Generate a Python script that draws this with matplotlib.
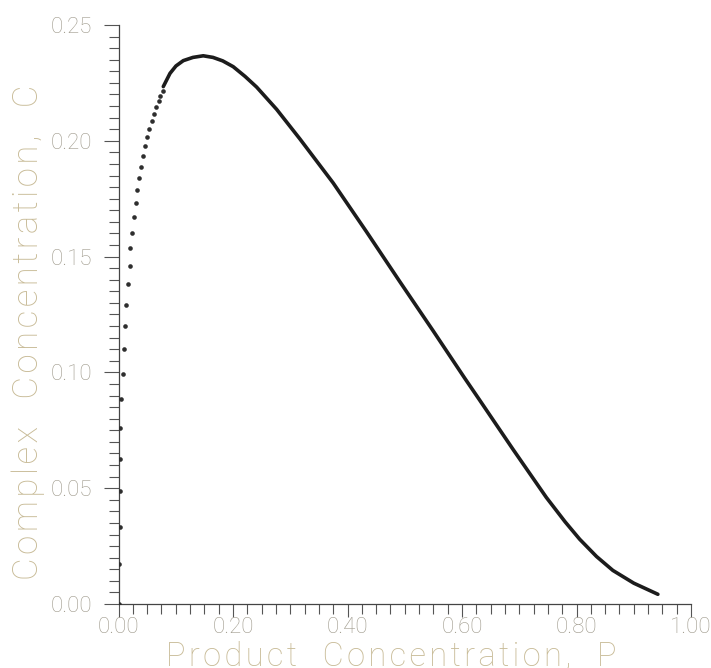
import matplotlib
matplotlib.use("Agg")
import matplotlib.pyplot as plt
from matplotlib.ticker import MultipleLocator, FormatStrFormatter

# Sparse early-time points (product P, complex C)
p_sparse = [0.000, 0.001, 0.002, 0.002, 0.003, 0.003, 0.005, 0.007, 0.0096, 0.0113,
            0.0136, 0.0161, 0.0192, 0.0209, 0.0241, 0.0265, 0.0300, 0.0328, 0.0358,
            0.0393, 0.0433, 0.0468, 0.0503, 0.0538, 0.0579, 0.0620, 0.0654, 0.0702,
            0.0729, 0.0771]
c_sparse = [0.0000, 0.0171, 0.0334, 0.0487, 0.0626, 0.0759, 0.0884, 0.0994, 0.1102, 0.1199,
            0.1291, 0.1380, 0.1459, 0.1535, 0.1603, 0.1670, 0.1730, 0.1788, 0.1839,
            0.1887, 0.1934, 0.1976, 0.2015, 0.2051, 0.2085, 0.2116, 0.2145, 0.2172,
            0.2195, 0.2216]

# Dense later-time points (dots merge into a line)
p_dense = [0.0782, 0.0899, 0.1003, 0.1131, 0.130, 0.148, 0.165, 0.182, 0.2003, 0.221,
           0.2412, 0.2761, 0.3168, 0.3749, 0.4332, 0.4913, 0.5494, 0.6047, 0.6309,
           0.6890, 0.7473, 0.7800, 0.8054, 0.8350, 0.8635, 0.9000, 0.9421]
c_dense = [0.2234, 0.2291, 0.2323, 0.2346, 0.2360, 0.2367, 0.2360, 0.2345, 0.2320, 0.2278,
           0.2232, 0.2136, 0.2008, 0.1818, 0.1607, 0.1392, 0.1180, 0.0975, 0.0880,
           0.0668, 0.0460, 0.0355, 0.0280, 0.0205, 0.0145, 0.0090, 0.0042]

x_label = "Product  Concentration,  P"
y_label = "Complex  Concentration,  C"

def spaced(s):
    return "\u200a".join(s)

tick_color = "#9e998b"
label_color = "#c8bb97"
font = ["Roboto", "DejaVu Sans"]

fig = plt.figure(figsize=(7.11, 6.68), dpi=100)
ax = fig.add_axes([0.1667, 0.0958, 0.8052, 0.8668])

ax.plot(p_dense, c_dense, color="#1c1c1c", lw=2.6, solid_capstyle="round")
ax.scatter(p_sparse, c_sparse, s=11, color="#2e2e2e", zorder=3, linewidths=0)

ax.set_xlim(0, 1.0)
ax.set_ylim(0, 0.25)
ax.spines["top"].set_visible(False)
ax.spines["right"].set_visible(False)
for s in ("left", "bottom"):
    ax.spines[s].set_linewidth(0.9)
    ax.spines[s].set_color("#444444")

ax.xaxis.set_major_locator(MultipleLocator(0.2))
ax.xaxis.set_minor_locator(MultipleLocator(0.025))
ax.yaxis.set_major_locator(MultipleLocator(0.05))
ax.yaxis.set_minor_locator(MultipleLocator(0.005))
ax.xaxis.set_major_formatter(FormatStrFormatter("%.2f"))
ax.yaxis.set_major_formatter(FormatStrFormatter("%.2f"))

ax.tick_params(axis="x", which="major", direction="out", length=9, width=0.8,
               color="#555555", labelsize=16, labelcolor=tick_color, pad=0)
ax.tick_params(axis="x", which="minor", direction="out", length=7, width=0.8, color="#555555")
ax.tick_params(axis="y", which="major", direction="out", length=11, width=0.8,
               color="#555555", labelsize=16, labelcolor=tick_color, pad=8)
ax.tick_params(axis="y", which="minor", direction="out", length=7, width=0.8, color="#555555")
for lab in ax.get_xticklabels() + ax.get_yticklabels():
    lab.set_fontweight("light")
    lab.set_family(font)

fig.text(0.550, -0.007, spaced(x_label), ha="center", va="bottom", fontsize=23.5,
         color=label_color, fontweight="light", family=font)
fig.text(0.040, 0.503, spaced(y_label), ha="center", va="center", fontsize=25,
         rotation=90, color=label_color, fontweight="light", family=font)

fig.savefig("out.png", dpi=100, facecolor="white")
